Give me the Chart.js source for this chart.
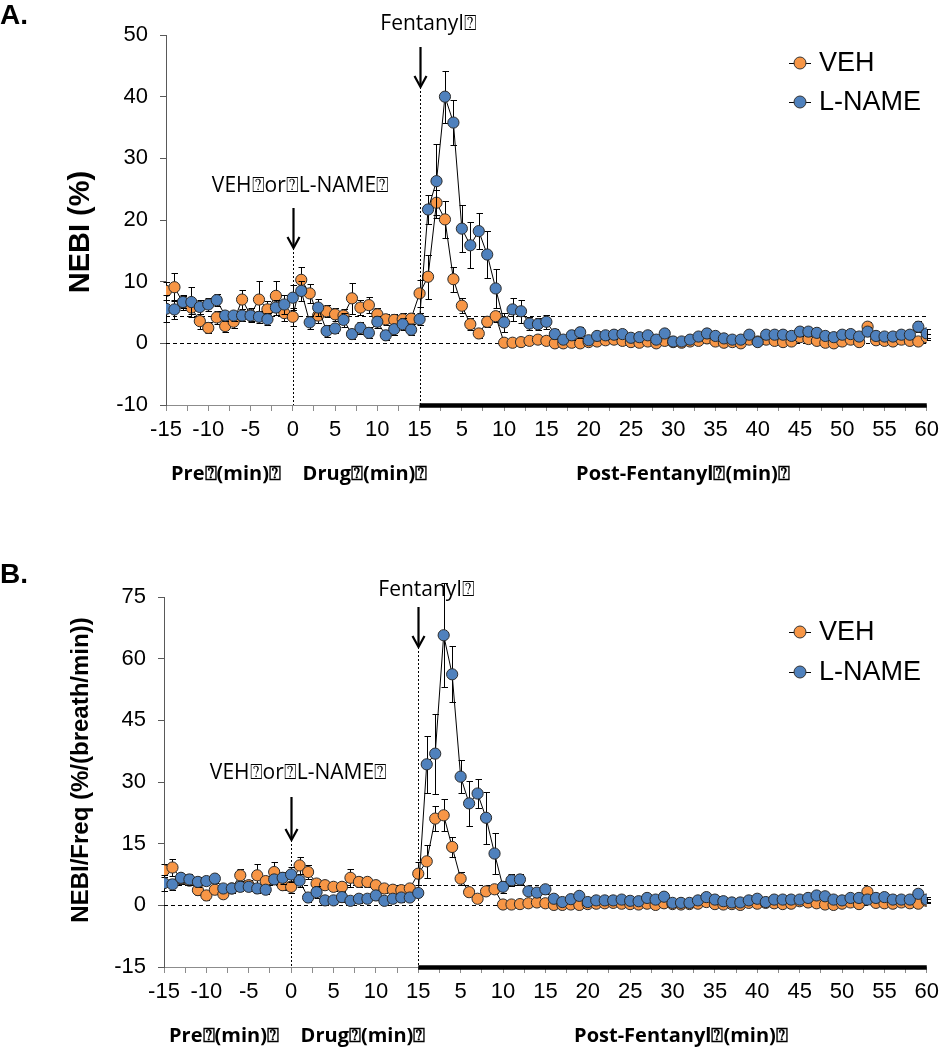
<!DOCTYPE html>
<html><head><meta charset="utf-8">
<script src="https://cdn.jsdelivr.net/npm/chart.js@4.4.1/dist/chart.umd.min.js"></script>
<style>
html,body{margin:0;padding:0;background:#fff;}
canvas{display:block;}
</style></head><body>
<canvas id="chartA" width="945" height="525"></canvas>
<canvas id="chartB" width="945" height="525"></canvas>
<script>
// ---- data ----
const tickLabels = ['-15','-10','-5','0','5','10','15','5','10','15','20','25','30','35','40','45','50','55','60'];
const seriesNames = ['VEH','L-NAME'];
const seriesColors = ['#F79646','#4F81BD'];
const periodLabels = ['Pre⍰(min)⍰','Drug⍰(min)⍰','Post-Fentanyl⍰(min)⍰'];
const drugLabel = 'VEH⍰or⍰L-NAME⍰';
const fentanylLabel = 'Fentanyl⍰';

const vehNebi = [8.5,9.1,6.6,5.8,3.6,2.5,4.2,2.8,3.5,7.1, 4.6,7.1,5.5,7.7,4.9,4.3,10.3,8.1,4.5,5.2,
  4.7,4.5,7.3,5.8,6.2,4.7,3.9,3.8,3.9,4.0, 8.1,10.8,22.8,20.1,10.4,6.1,3.1,1.6,3.5,4.4,
  0.1,0.1,0.2,0.4,0.6,0.4,0.0,0.0,0.1,0.0, 0.2,0.3,0.5,0.6,0.4,0.2,0.1,0.3,0.0,0.4,
  0.2,0.1,0.3,0.4,0.8,0.3,0.1,0.2,0.0,0.6, 0.3,0.6,0.4,0.2,0.3,1.0,0.7,0.4,0.1,0.0,
  0.3,0.6,0.2,2.7,0.5,0.4,0.3,0.6,0.4,0.3, 1.0];
const vehNebiErr = [1.4,2.3,1.2,1.0,1.2,0.9,1.0,0.9,1.0,1.6, 1.2,3.0,1.3,2.4,1.2,1.5,2.1,1.5,1.2,1.0,
  1.0,1.0,2.5,1.2,1.3,1.0,0.9,0.9,1.0,0.9, 2.2,3.6,2.0,3.0,2.0,1.2,1.0,0.8,0.9,0.9,
  0.3,0.3,0.3,0.4,0.4,0.3,0.2,0.2,0.3,0.2, 0.3,0.3,0.4,0.4,0.3,0.3,0.2,0.3,0.2,0.3,
  0.3,0.2,0.3,0.3,0.5,0.3,0.2,0.3,0.2,0.4, 0.3,0.4,0.3,0.3,0.3,0.5,0.4,0.3,0.2,0.2,
  0.3,0.4,0.3,0.8,0.4,0.3,0.3,0.4,0.3,0.3, 0.5];
const lnameNebi = [5.6,5.5,6.7,6.7,5.9,6.3,7.0,4.5,4.5,4.5, 4.5,4.3,3.9,5.8,6.3,7.4,8.5,3.4,5.8,2.0,
  2.4,3.8,1.5,2.5,1.7,3.5,1.3,2.3,3.1,2.2, 3.9,21.7,26.3,40.0,35.8,18.6,15.9,18.2,14.4,8.9,
  3.4,5.5,5.2,3.2,3.1,3.5,1.5,0.6,1.3,1.8, 0.5,1.2,1.3,1.4,1.5,0.9,1.0,1.3,0.6,1.6,
  0.3,0.3,0.6,1.1,1.6,1.2,0.8,0.6,0.6,1.4, 0.2,1.4,1.4,1.4,1.2,1.9,1.9,1.7,1.2,1.0,
  1.4,1.5,1.1,1.9,1.2,1.1,1.1,1.4,1.4,2.7, 1.6];
const lnameNebiErr = [2.2,1.5,1.0,2.4,1.2,1.0,1.0,0.8,0.8,0.8, 0.8,1.0,1.0,1.2,1.5,2.0,1.6,1.0,1.4,1.0,
  0.8,1.2,0.8,1.0,0.9,1.0,0.8,0.9,1.0,0.9, 1.0,2.3,6.0,4.2,3.6,3.8,3.7,2.9,3.8,3.1,
  1.5,1.9,1.9,1.0,1.0,1.1,0.8,0.6,0.8,0.9, 0.5,0.6,0.6,0.7,0.6,0.5,0.5,0.6,0.4,0.6,
  0.4,0.4,0.5,0.6,0.7,0.6,0.5,0.4,0.4,0.6, 0.4,0.6,0.6,0.6,0.5,0.7,0.7,0.6,0.5,0.5,
  0.6,0.6,0.5,0.7,0.6,0.5,0.5,0.6,0.6,0.9, 0.7];

const vehFreq = [8.5,9.2,6.5,6.0,3.7,2.4,3.8,2.7,4.1,7.3, 4.9,7.3,5.9,8.1,4.9,4.5,9.7,8.1,5.3,4.9,
  4.5,4.5,6.7,5.7,5.7,4.9,4.1,3.8,3.7,4.1, 7.7,10.7,21.1,21.9,14.2,6.5,3.2,1.6,3.4,3.9,
  0.2,0.2,0.3,0.5,0.7,0.5,0.1,0.1,0.2,0.1, 0.3,0.4,0.5,0.6,0.4,0.3,0.2,0.4,0.1,0.5,
  0.3,0.2,0.3,0.4,0.8,0.3,0.2,0.3,0.1,0.6, 0.4,0.6,0.5,0.3,0.4,1.0,0.7,0.5,0.2,0.1,
  0.4,0.7,0.3,3.3,0.6,0.5,0.4,0.7,0.5,0.4, 1.1];
const vehFreqErr = [1.6,2.0,1.2,1.0,1.2,1.0,1.0,1.0,1.0,1.5, 1.2,2.8,1.3,2.5,1.2,1.5,2.0,1.6,1.2,1.0,
  1.0,1.0,2.2,1.2,1.3,1.0,1.0,1.0,1.0,1.0, 2.8,4.0,3.0,3.9,2.5,1.5,1.0,0.9,0.9,1.0,
  0.3,0.3,0.3,0.4,0.4,0.3,0.2,0.2,0.3,0.2, 0.3,0.3,0.4,0.4,0.3,0.3,0.2,0.3,0.2,0.3,
  0.3,0.2,0.3,0.3,0.5,0.3,0.2,0.3,0.2,0.4, 0.3,0.4,0.3,0.3,0.3,0.5,0.4,0.3,0.2,0.2,
  0.3,0.4,0.3,0.9,0.4,0.3,0.3,0.4,0.3,0.3, 0.5];
const lnameFreq = [5.4,5.1,6.7,6.3,5.7,5.9,6.5,4.1,4.1,4.5, 4.5,4.1,3.8,6.3,6.7,7.5,6.0,1.9,3.2,1.2,
  1.2,2.0,1.1,1.6,1.6,2.4,1.1,1.6,1.9,1.9, 3.0,34.3,36.9,65.7,56.2,31.3,24.8,27.2,21.3,12.6,
  4.5,6.1,6.3,3.4,3.1,3.9,1.6,0.8,1.5,2.3, 0.8,1.2,1.2,1.2,1.4,1.1,1.0,1.8,1.4,2.1,
  0.6,0.6,0.6,1.2,2.0,1.4,1.0,0.7,0.7,1.2, 1.6,0.8,1.4,1.4,1.4,1.4,1.8,2.4,2.2,1.4,
  1.2,1.8,1.8,1.4,1.8,2.0,1.4,1.4,1.4,2.8, 1.4];
const lnameFreqErr = [2.0,1.4,1.0,1.4,1.2,1.0,1.0,0.9,0.9,0.9, 0.9,1.0,1.0,1.2,1.5,1.8,1.6,1.0,1.4,1.0,
  0.8,1.2,0.8,1.0,0.9,1.0,0.8,0.9,1.0,0.9, 1.0,7.0,9.7,12.7,6.8,4.0,5.5,3.6,6.3,5.0,
  1.5,1.5,1.3,1.0,1.0,1.1,0.8,0.6,0.8,0.9, 0.6,0.6,0.6,0.7,0.6,0.5,0.5,0.6,0.5,0.6,
  0.4,0.4,0.5,0.6,0.7,0.6,0.5,0.4,0.4,0.6, 0.5,0.6,0.6,0.6,0.5,0.7,0.7,0.6,0.5,0.5,
  0.6,0.6,0.5,0.7,0.6,0.5,0.5,0.6,0.6,0.9, 0.7];

// ---- drawing ----
const FONT = '"Liberation Sans", Arial, sans-serif';
const FONT2 = '"Open Sans", "Liberation Sans", sans-serif';

const overlay = {
  id: 'overlay',
  beforeDatasetsDraw(chart, args, o) {
    const {ctx, chartArea: a, scales: {x, y}} = chart;
    ctx.save();
    ctx.strokeStyle = '#000'; ctx.lineWidth = 1;
    ctx.setLineDash([4, 3]);
    o.refLines.forEach(v => {
      const py = Math.round(y.getPixelForValue(v)) + 0.5;
      ctx.beginPath(); ctx.moveTo(a.left, py); ctx.lineTo(a.right, py); ctx.stroke();
    });
    ctx.setLineDash([2, 2]);
    o.events.forEach(m => {
      const px = Math.round(x.getPixelForValue(m.at)) + 0.5;
      ctx.beginPath(); ctx.moveTo(px, m.tip); ctx.lineTo(px, a.bottom); ctx.stroke();
    });
    ctx.restore();
  },
  beforeDatasetDraw(chart, args) {
    const ds = chart.data.datasets[args.index];
    if (!ds.errors) return;
    const {ctx, scales: {x, y}} = chart;
    ctx.save();
    ctx.strokeStyle = '#000'; ctx.lineWidth = 1;
    ds.data.forEach((p, i) => {
      const e = ds.errors[i];
      const px = Math.round(x.getPixelForValue(p.x)) + 0.5;
      const t = Math.round(y.getPixelForValue(p.y + e)) + 0.5;
      const b = Math.round(y.getPixelForValue(p.y - e)) + 0.5;
      ctx.beginPath();
      ctx.moveTo(px, t); ctx.lineTo(px, b);
      ctx.moveTo(px - 3, t); ctx.lineTo(px + 3.5, t);
      ctx.moveTo(px - 3, b); ctx.lineTo(px + 3.5, b);
      ctx.stroke();
    });
    ctx.restore();
  },
  afterDraw(chart, args, o) {
    const {ctx, chartArea: a, scales: {x, y}} = chart;
    ctx.save();
    // thick post-fentanyl bar
    ctx.strokeStyle = '#000'; ctx.lineWidth = 4.5;
    ctx.beginPath();
    ctx.moveTo(x.getPixelForValue(o.barFrom), a.bottom + 0.5);
    ctx.lineTo(x.getPixelForValue(o.barTo), a.bottom + 0.5);
    ctx.stroke();
    // arrows + labels
    o.events.forEach(m => {
      const px = Math.round(x.getPixelForValue(m.at)) + 0.5;
      ctx.strokeStyle = '#000'; ctx.lineWidth = 2.2; ctx.setLineDash([]);
      ctx.beginPath(); ctx.moveTo(px, m.top); ctx.lineTo(px, m.tip - 1); ctx.stroke();
      ctx.beginPath(); ctx.moveTo(px - 6, m.tip - 11); ctx.lineTo(px, m.tip); ctx.lineTo(px + 6, m.tip - 11); ctx.stroke();
      ctx.fillStyle = '#000';
      ctx.font = '21px ' + FONT2;
      ctx.textAlign = 'center'; ctx.textBaseline = 'middle';
      ctx.fillText(m.text, px + m.dx, m.textY);
    });
    // period labels
    ctx.font = 'bold 20px ' + FONT2;
    ctx.textAlign = 'center'; ctx.textBaseline = 'middle';
    o.periods.forEach(p => ctx.fillText(p.text, p.x, o.periodY));
    // panel letter
    ctx.font = 'bold 28px ' + FONT;
    ctx.textAlign = 'left';
    ctx.fillText(o.letter, 0, o.letterY);
    // y title
    ctx.save();
    ctx.translate(o.titleX, o.titleY);
    ctx.rotate(-Math.PI / 2);
    ctx.font = 'bold ' + o.titleSize + 'px ' + FONT;
    ctx.textAlign = 'center';
    ctx.fillText(o.title, 0, 0);
    ctx.restore();
    // legend
    chart.data.datasets.forEach((ds, i) => {
      const ly = o.legendY[i];
      ctx.strokeStyle = '#000'; ctx.lineWidth = 1;
      ctx.beginPath(); ctx.moveTo(789, ly + 0.5); ctx.lineTo(811, ly + 0.5); ctx.stroke();
      ctx.beginPath(); ctx.arc(800, ly, 6, 0, Math.PI * 2);
      ctx.fillStyle = ds.pointBackgroundColor; ctx.fill();
      ctx.strokeStyle = '#333'; ctx.stroke();
      ctx.fillStyle = '#000';
      ctx.font = '27px ' + FONT;
      ctx.textAlign = 'left'; ctx.textBaseline = 'middle';
      ctx.fillText(ds.label, 819, ly + 1);
    });
    ctx.restore();
  }
};

function makeSeries(vals, errs, idx) {
  return {
    label: seriesNames[idx],
    data: vals.map((v, i) => ({x: i, y: v})),
    errors: errs,
    borderColor: '#000', borderWidth: 1,
    pointBackgroundColor: seriesColors[idx],
    pointBorderColor: '#2b2b2b', pointBorderWidth: 1,
    pointRadius: 5.6, pointHoverRadius: 5.6,
    tension: 0, order: 2 - idx
  };
}

function makeChart(id, s) {
  return new Chart(document.getElementById(id), {
    type: 'line',
    data: { datasets: [makeSeries(s.veh, s.vehErr, 0), makeSeries(s.lname, s.lnameErr, 1)] },
    options: {
      responsive: false, animation: false, devicePixelRatio: 1,
      layout: { padding: { left: 0, right: 15, top: s.top, bottom: 0 } },
      plugins: { legend: { display: false }, tooltip: { enabled: false }, overlay: s.overlay },
      scales: {
        x: {
          type: 'linear', min: 0, max: 90,
          afterFit(sc) { sc.height = s.xHeight; },
          border: { display: true, color: '#8c8c8c', width: 1 },
          grid: { drawOnChartArea: false, drawTicks: true, tickLength: 6, color: '#8c8c8c' },
          ticks: {
            stepSize: 2.5, maxTicksLimit: 100, autoSkip: false, maxRotation: 0, padding: 6,
            color: '#000', font: { family: FONT, size: 22 },
            callback(v) { const k = v / 5; return Number.isInteger(k) ? tickLabels[k] : ''; }
          }
        },
        y: {
          min: s.ymin, max: s.ymax,
          afterFit(sc) { sc.width = s.left; },
          border: { display: true, color: '#595959', width: 1 },
          grid: { drawOnChartArea: false, drawTicks: true, tickLength: 6, color: '#595959' },
          ticks: { stepSize: s.step, padding: 12, color: '#000', font: { family: FONT, size: 22 } }
        }
      }
    },
    plugins: [overlay]
  });
}

makeChart('chartA', {
  veh: vehNebi, vehErr: vehNebiErr, lname: lnameNebi, lnameErr: lnameNebiErr,
  top: 35, xHeight: 120, left: 166, ymin: -10, ymax: 50, step: 10,
  overlay: {
    refLines: [0, 4.5], barFrom: 30, barTo: 90,
    events: [
      { at: 15, top: 208, tip: 248, text: drugLabel, textY: 186, dx: 7 },
      { at: 30, top: 47, tip: 87, text: fentanylLabel, textY: 24, dx: 8 }
    ],
    periods: [{ text: periodLabels[0], x: 226 }, { text: periodLabels[1], x: 365 }, { text: periodLabels[2], x: 683 }],
    periodY: 474, letter: 'A.', letterY: 16,
    title: 'NEBI (%)', titleSize: 29, titleX: 81, titleY: 232,
    legendY: [63, 102]
  }
});

makeChart('chartB', {
  veh: vehFreq, vehErr: vehFreqErr, lname: lnameFreq, lnameErr: lnameFreqErr,
  top: 72, xHeight: 83, left: 164, ymin: -15, ymax: 75, step: 15,
  overlay: {
    refLines: [0, 5], barFrom: 30, barTo: 90,
    events: [
      { at: 15, top: 272, tip: 315, text: drugLabel, textY: 248, dx: 7 },
      { at: 30, top: 82, tip: 122, text: fentanylLabel, textY: 65, dx: 8 }
    ],
    periods: [{ text: periodLabels[0], x: 224 }, { text: periodLabels[1], x: 363 }, { text: periodLabels[2], x: 681 }],
    periodY: 511, letter: 'B.', letterY: 50,
    title: 'NEBI/Freq (%/(breath/min))', titleSize: 24, titleX: 81, titleY: 245,
    legendY: [107, 147]
  }
});
</script>
</body></html>
